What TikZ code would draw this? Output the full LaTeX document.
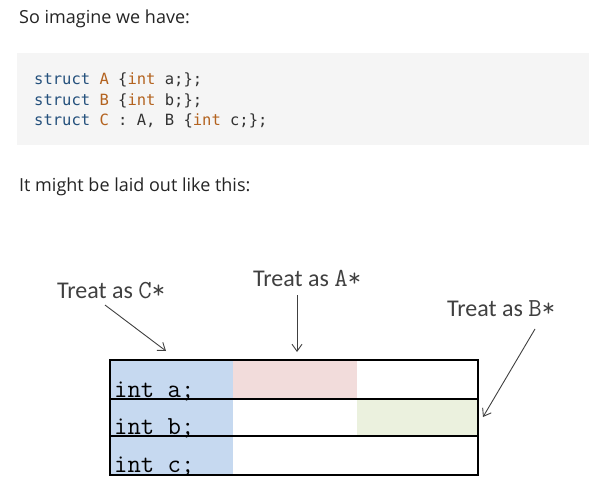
\documentclass[tikz,border=0pt]{standalone}
\usepackage{fontspec}
\usepackage{xcolor}
\usepackage{tikz}
\setmainfont{Open Sans}
\newfontfamily\calfont{Carlito}
\newfontfamily\codefont{DejaVu Sans Mono}
\definecolor{prose}{HTML}{242424}
\definecolor{codebg}{HTML}{F5F5F5}
\definecolor{kwblue}{HTML}{24507C}
\definecolor{tyorange}{HTML}{B3621E}
\definecolor{codegray}{HTML}{333333}
\definecolor{arrowgray}{HTML}{404040}
\definecolor{cblue}{HTML}{C6D9F0}
\definecolor{apink}{HTML}{F2DCDB}
\definecolor{bgreen}{HTML}{EBF1DE}
\usetikzlibrary{arrows.meta, positioning}

\begin{document}
\begin{tikzpicture}[x=1pt, y=-1pt,
  prosetext/.style={inner sep=0, anchor=base west, text=prose, font=\fontsize{18}{22}\selectfont},
  codeline/.style={inner sep=0, anchor=base west, text=codegray, font=\codefont\fontsize{15.5}{18}\selectfont},
  treat/.style={inner sep=0, anchor=base west, text=arrowgray, font=\calfont\fontsize{24}{28}\selectfont},
  field/.style={inner sep=0, anchor=base west, text=black, font=\ttfamily\fontsize{26}{30}\selectfont},
  pointer/.style={draw=arrowgray, line width=0.9pt, -{Straight Barb[length=7pt, width=10pt]}},
  rowline/.style={draw=black, line width=2.6pt}]
\useasboundingbox (0,0) rectangle (589,497);
\node[prosetext] (intro) at (19,24) {So imagine we have:};
\fill[codebg] (17,53) rectangle (589,145);
\node[codeline] (la) at (34,85) {\textcolor{kwblue}{struct} \textcolor{tyorange}{A} \{\textcolor{tyorange}{int} a;\};};
\node[codeline] (lb) at (34,106) {\textcolor{kwblue}{struct} \textcolor{tyorange}{B} \{\textcolor{tyorange}{int} b;\};};
\node[codeline] (lc) at (34,126) {\textcolor{kwblue}{struct} \textcolor{tyorange}{C} : A, B \{\textcolor{tyorange}{int} c;\};};
\node[prosetext] (outro) at (19,192) {It might be laid out like this:};
\fill[cblue] (110,360) rectangle (233,475);
\fill[apink] (233,360) rectangle (357,398);
\fill[bgreen] (357,399) rectangle (478,436);
\node[field] (fa) at (114,397) {int a;};
\node[field] (fb) at (114,434) {int b;};
\node[field] (fc) at (114,472) {int c;};
\draw[rowline] (110,360) rectangle (478,475);
\draw[rowline] (110,399) -- (478,399);
\draw[rowline] (110,436) -- (478,436);
\node[treat] (tc) at (57,298) {Treat as {\ttfamily\fontsize{26}{28}\selectfont C*}};
\node[treat] (ta) at (253,286) {Treat as {\ttfamily\fontsize{26}{28}\selectfont A*}};
\node[treat] (tb) at (447,316) {Treat as {\ttfamily\fontsize{26}{28}\selectfont B*}};
\coordinate (cfrom) at (105,305);
\coordinate (cto) at (166,351);
\coordinate (afrom) at (297,295);
\coordinate (ato) at (297,352);
\coordinate (bfrom) at (535,329);
\coordinate (bto) at (483,417);
\draw[pointer] (cfrom) -- (cto);
\draw[pointer] (afrom) -- (ato);
\draw[pointer] (bfrom) -- (bto);
\end{tikzpicture}
\end{document}
